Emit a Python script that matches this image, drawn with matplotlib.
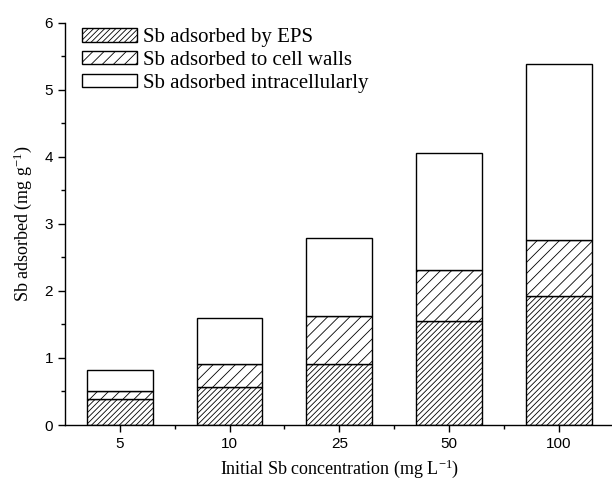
import matplotlib.pyplot as plt
import numpy as np

# Sb partitioning per initial concentration (mg g-1)
concentrations = ['5', '10', '25', '50', '100']
eps = np.array([0.39, 0.57, 0.91, 1.55, 1.92])
cell_walls = np.array([0.12, 0.34, 0.72, 0.76, 0.84])
intracellular = np.array([0.31, 0.68, 1.16, 1.75, 2.63])

serif = 'Liberation Serif'
sans = 'Liberation Sans'
plt.rcParams['hatch.linewidth'] = 0.6
plt.rcParams['mathtext.fontset'] = 'custom'
plt.rcParams['mathtext.rm'] = serif
plt.rcParams['mathtext.it'] = serif + ':italic'

fig = plt.figure(figsize=(6.12, 4.84), dpi=100)
ax = fig.add_axes([0.1062, 0.1219, 0.8963, 0.8306])

x = np.arange(1, len(concentrations) + 1)
w = 0.6
ax.bar(x, eps, w, color='white', edgecolor='black', linewidth=1.0,
       hatch='//////', label='Sb adsorbed by EPS')
ax.bar(x, cell_walls, w, bottom=eps, color='white', edgecolor='black',
       linewidth=1.0, hatch='///', label='Sb adsorbed to cell walls')
ax.bar(x, intracellular, w, bottom=eps + cell_walls, color='white',
       edgecolor='black', linewidth=1.0, label='Sb adsorbed intracellularly')

ax.set_xlim(0.5, 5.5)
ax.set_ylim(0, 6)
ax.set_xticks(x)
ax.set_xticklabels(concentrations)
ax.set_xticks(x[:-1] + 0.5, minor=True)
ax.set_yticks(np.arange(0, 7, 1))
ax.set_yticks(np.arange(0.5, 6, 1), minor=True)

for side in ['top', 'right']:
    ax.spines[side].set_visible(False)
for side in ['left', 'bottom']:
    ax.spines[side].set_linewidth(1.0)

ax.tick_params(which='major', direction='out', length=5, width=1.0,
               labelsize=11)
ax.tick_params(which='minor', direction='out', length=3, width=1.0)
for lbl in ax.get_xticklabels() + ax.get_yticklabels():
    lbl.set_fontfamily(sans)

ax.set_xlabel(r'Initial Sb concentration (mg L$^{\mathrm{-1}}$)', fontsize=13,
              fontfamily=serif, labelpad=5)
ax.set_ylabel(r'Sb adsorbed (mg g$^{\mathrm{-1}}$)', fontsize=13,
              fontfamily=serif, labelpad=8)

leg = ax.legend(loc='upper left', bbox_to_anchor=(0.023, 0.997), frameon=False,
                prop={'family': serif, 'size': 15}, handlelength=2.65,
                handleheight=0.6, handletextpad=0.3, labelspacing=0.18,
                borderaxespad=0.0, borderpad=0.2)

fig.savefig('out.png', dpi=100)
